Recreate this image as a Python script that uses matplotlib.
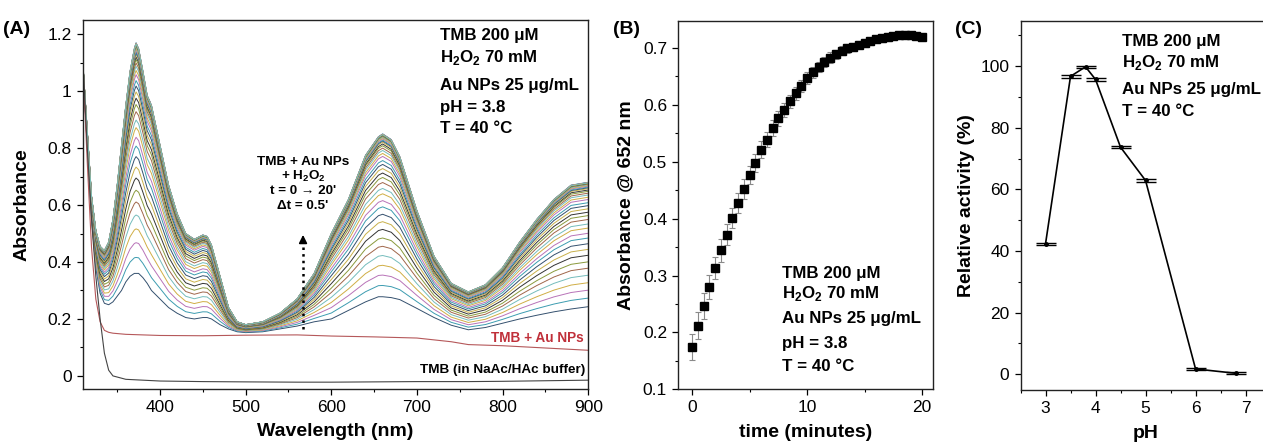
import matplotlib

matplotlib.use("Agg")

import matplotlib.pyplot as plt
import numpy as np
from matplotlib.ticker import FuncFormatter, MultipleLocator

plt.rcParams["font.family"] = ["Liberation Sans", "DejaVu Sans"]
plt.rcParams["mathtext.fontset"] = "custom"
plt.rcParams["mathtext.rm"] = "Liberation Sans"
plt.rcParams["mathtext.bf"] = "Liberation Sans:bold"

# --- (A) spectra: first (t=0) and last (t=20') scans ---
wavelength = [310, 315, 320, 325, 330, 335, 340, 345, 350, 355, 360, 365, 370,
              372, 375, 380, 385, 388, 390, 395, 400, 410, 420, 430, 440, 450,
              455, 460, 470, 480, 490, 500, 520, 540, 560, 580, 600, 620, 640,
              655, 660, 670, 680, 700, 720, 740, 760, 780, 800, 820, 840, 860,
              880, 900]
spec_first = [1.08, 0.80, 0.55, 0.38, 0.29, 0.255, 0.25, 0.26, 0.28, 0.30, 0.33,
              0.35, 0.36, 0.36, 0.36, 0.345, 0.325, 0.31, 0.30, 0.285, 0.27, 0.24,
              0.22, 0.205, 0.20, 0.205, 0.205, 0.20, 0.18, 0.165, 0.155, 0.152,
              0.155, 0.165, 0.175, 0.19, 0.20, 0.23, 0.26, 0.278, 0.278, 0.275,
              0.268, 0.237, 0.205, 0.178, 0.162, 0.17, 0.185, 0.2, 0.213, 0.225,
              0.235, 0.243]
spec_last = [1.09, 0.86, 0.63, 0.51, 0.455, 0.44, 0.47, 0.55, 0.67, 0.81, 0.95,
             1.07, 1.15, 1.17, 1.15, 1.07, 0.985, 0.965, 0.95, 0.88, 0.81, 0.67,
             0.57, 0.50, 0.48, 0.495, 0.49, 0.46, 0.35, 0.24, 0.19, 0.18, 0.19,
             0.22, 0.27, 0.36, 0.50, 0.62, 0.775, 0.84, 0.85, 0.83, 0.77, 0.58,
             0.42, 0.325, 0.295, 0.32, 0.38, 0.47, 0.55, 0.62, 0.67, 0.68]
wl_ctrl = [310, 315, 320, 325, 330, 335, 340, 345, 360, 400, 450, 500, 560, 600,
           650, 700, 740, 760, 800, 850, 900]
tmb_aunp = [1.09, 0.75, 0.45, 0.27, 0.19, 0.16, 0.153, 0.15, 0.146, 0.142, 0.141,
            0.143, 0.144, 0.14, 0.137, 0.133, 0.12, 0.11, 0.106, 0.098, 0.09]
tmb_buffer = [1.10, 0.80, 0.55, 0.35, 0.20, 0.08, 0.02, 0.0, -0.012, -0.018,
              -0.02, -0.021, -0.022, -0.022, -0.021, -0.02, -0.02, -0.02, -0.019,
              -0.017, -0.015]

# --- (B) kinetics at 652 nm ---
kin_time = [0, 0.5, 1, 1.5, 2, 2.5, 3, 3.5, 4, 4.5, 5, 5.5, 6, 6.5, 7, 7.5, 8,
            8.5, 9, 9.5, 10, 10.5, 11, 11.5, 12, 12.5, 13, 13.5, 14, 14.5, 15,
            15.5, 16, 16.5, 17, 17.5, 18, 18.5, 19, 19.5, 20]
kin_abs = [0.174, 0.212, 0.247, 0.280, 0.313, 0.344, 0.372, 0.401, 0.427, 0.452,
           0.477, 0.498, 0.521, 0.539, 0.559, 0.576, 0.591, 0.606, 0.620, 0.633,
           0.647, 0.657, 0.667, 0.675, 0.683, 0.689, 0.695, 0.699, 0.702, 0.706,
           0.709, 0.712, 0.715, 0.717, 0.719, 0.721, 0.722, 0.723, 0.722, 0.721,
           0.720]
kin_err = [0.023, 0.023, 0.023, 0.021, 0.02, 0.02, 0.019, 0.018, 0.018, 0.017,
           0.016, 0.016, 0.015, 0.014, 0.014, 0.013, 0.012, 0.012, 0.011, 0.011,
           0.01, 0.01, 0.009, 0.009, 0.009, 0.008, 0.008, 0.008, 0.007, 0.007,
           0.007, 0.006, 0.006, 0.006, 0.006, 0.005, 0.005, 0.005, 0.005, 0.005,
           0.005]

# --- (C) pH profile ---
ph = [3.0, 3.5, 3.8, 4.0, 4.5, 5.0, 6.0, 6.8]
activity = [42.3, 96.7, 99.8, 95.7, 73.7, 62.9, 1.7, 0.3]
activity_err = [0.4, 0.5, 0.4, 0.4, 0.4, 0.4, 0.3, 0.3]

conditions = ["TMB 200 μM", r"H$_\mathbf{2}$O$_\mathbf{2}$ 70 mM",
              "Au NPs 25 μg/mL", "pH = 3.8", "T = 40 °C"]

# origin-like colour cycle for the time-resolved scans
line_colors = ["#34506e", "#3c9cb0", "#b873b8", "#d0ae45", "#74bcbc",
               "#a0664a", "#8a9a3c", "#333333", "#c8b04a"]


def style_axes(ax):
    for s in ax.spines.values():
        s.set_linewidth(1.0)
        s.set_color("#222222")
    ax.tick_params(which="major", direction="out", length=4.5, width=0.9,
                   labelsize=12.5)
    ax.tick_params(which="minor", direction="out", length=2.5, width=0.8)


fig = plt.figure(figsize=(12.63, 4.48), dpi=100)

# ---------------- (A) ----------------
ax1 = fig.add_axes([0.0657, 0.1317, 0.400, 0.8237])
first = np.array(spec_first)
last = np.array(spec_last)
kin = np.array(kin_abs)
frac = (kin - kin[0]) / (kin.max() - kin[0])
for i, f in enumerate(frac):
    ax1.plot(wavelength, first + f * (last - first), lw=0.7,
             color=line_colors[i % len(line_colors)])
ax1.plot(wl_ctrl, tmb_aunp, lw=0.8, color="#b5585a")
ax1.plot(wl_ctrl, tmb_buffer, lw=0.8, color="#444444")

ax1.plot([567, 567], [0.165, 0.48], ls=":", lw=1.8, color="black")
ax1.annotate("", xy=(567, 0.505), xytext=(567, 0.47),
             arrowprops=dict(arrowstyle="-|>", color="black", lw=1.2,
                             mutation_scale=12))
for txt, yy in zip(["TMB + Au NPs", r"+ H$_\mathbf{2}$O$_\mathbf{2}$",
                    "t = 0 → 20'", "Δt = 0.5'"], [0.752, 0.700, 0.648, 0.598]):
    ax1.text(567, yy, txt, ha="center", va="center", fontsize=9.7,
             fontweight="bold")

for txt, yy in zip(conditions, [1.196, 1.118, 1.021, 0.943, 0.870]):
    ax1.text(727, yy, txt, ha="left", va="center", fontsize=12.2,
             fontweight="bold")
ax1.text(895, 0.132, "TMB + Au NPs", ha="right", va="center", fontsize=9.8,
         fontweight="bold", color="#c0303a")
ax1.text(897, 0.021, "TMB (in NaAc/HAc buffer)", ha="right", va="center",
         fontsize=9.7, fontweight="bold")

ax1.set_xlim(310, 900)
ax1.set_ylim(-0.046, 1.25)
ax1.xaxis.set_major_locator(MultipleLocator(100))
ax1.xaxis.set_minor_locator(MultipleLocator(50))
ax1.yaxis.set_major_locator(MultipleLocator(0.2))
ax1.yaxis.set_minor_locator(MultipleLocator(0.1))
ax1.yaxis.set_major_formatter(FuncFormatter(lambda v, p: f"{v:g}"))
ax1.set_xlabel("Wavelength (nm)", fontsize=14, fontweight="bold", labelpad=6)
ax1.set_ylabel("Absorbance", fontsize=14, fontweight="bold", labelpad=12)
style_axes(ax1)
fig.text(0.002, 0.925, "(A)", fontsize=14, fontweight="bold")

# ---------------- (B) ----------------
ax2 = fig.add_axes([0.537, 0.131, 0.2014, 0.823])
ax2.errorbar(kin_time, kin_abs, yerr=kin_err, fmt="s", color="black",
             markersize=5.2, ecolor="#8a8a8a", elinewidth=0.8, capsize=2.5,
             capthick=0.8)
for txt, yy in zip(conditions, [0.304, 0.268, 0.225, 0.181, 0.140]):
    ax2.text(7.8, yy, txt, ha="left", va="center", fontsize=12.2,
             fontweight="bold")
ax2.set_xlim(-1.2, 20.9)
ax2.set_ylim(0.1, 0.748)
ax2.xaxis.set_major_locator(MultipleLocator(10))
ax2.xaxis.set_minor_locator(MultipleLocator(5))
ax2.yaxis.set_major_locator(MultipleLocator(0.1))
ax2.yaxis.set_minor_locator(MultipleLocator(0.05))
ax2.set_xlabel("time (minutes)", fontsize=14, fontweight="bold", labelpad=6)
ax2.set_ylabel("Absorbance @ 652 nm", fontsize=14, fontweight="bold",
               labelpad=6)
style_axes(ax2)
fig.text(0.4855, 0.925, "(B)", fontsize=14, fontweight="bold")

# ---------------- (C) ----------------
ax3 = fig.add_axes([0.808, 0.129, 0.198, 0.825])
ax3.errorbar(ph, activity, yerr=activity_err, fmt="-o", color="black",
             markersize=2.5, lw=1.2, ecolor="black", elinewidth=0.8,
             capsize=7, capthick=1.0)
for txt, yy in zip([conditions[0], conditions[1], conditions[2], conditions[4]],
                   [107.9, 101.2, 92.4, 85.4]):
    ax3.text(4.52, yy, txt, ha="left", va="center", fontsize=12.2,
             fontweight="bold")
ax3.set_xlim(2.5, 7.5)
ax3.set_ylim(-5.2, 114.8)
ax3.xaxis.set_major_locator(MultipleLocator(1))
ax3.xaxis.set_minor_locator(MultipleLocator(0.5))
ax3.yaxis.set_major_locator(MultipleLocator(20))
ax3.yaxis.set_minor_locator(MultipleLocator(10))
ax3.set_xlabel("pH", fontsize=14, fontweight="bold", labelpad=6)
ax3.set_ylabel("Relative activity (%)", fontsize=14, fontweight="bold",
               labelpad=4)
style_axes(ax3)
fig.text(0.7565, 0.925, "(C)", fontsize=14, fontweight="bold")

fig.savefig("out.png", dpi=100)
plt.close(fig)
